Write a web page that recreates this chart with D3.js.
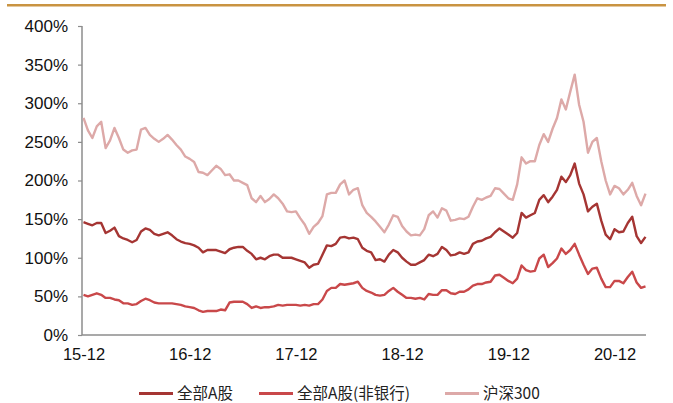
<!DOCTYPE html>
<html><head><meta charset="utf-8">
<script src="https://cdn.jsdelivr.net/npm/d3@7"></script>
<style>body{margin:0;background:#fff}svg{display:block}</style>
</head><body>
<svg id="c" width="673" height="403"></svg>
<script>
// month offsets from 2015-12 (half-month steps)
const months = d3.range(0, 64, 0.5);
const xTickLabels = ["15-12","16-12","17-12","18-12","19-12","20-12"];
const xTickMonths = [0,12,24,36,48,60];
const yTicks = [0,50,100,150,200,250,300,350,400];
const seriesNames = ["全部A股","全部A股(非银行)","沪深300"];

const allA = [146,144,142,145,145,132,135,139,128,125,123,120,123,134,138,136,131,129,131,133,129,124,121,119,118,116,113,107,110,110,110,108,106,111,113,114,114,109,105,98,100,98,102,104,104,100,100,100,98,96,94,87,91,92,104,116,115,118,126,127,125,126,124,113,109,107,97,98,95,104,110,107,100,95,91,91,94,97,104,102,105,114,110,103,104,107,105,107,118,121,122,125,127,133,138,134,130,126,132,158,152,155,158,175,181,172,179,188,205,198,207,222,196,182,160,166,170,148,130,124,137,133,134,145,153,128,119,127];
const nonBank = [52,50,52,54,52,48,48,46,45,41,41,39,40,44,47,45,42,41,41,41,41,40,39,37,36,35,32,30,31,31,31,33,32,42,43,43,43,40,35,37,35,36,36,37,39,38,39,39,39,38,39,38,40,40,46,57,61,61,66,65,66,67,69,61,57,55,52,51,52,57,61,56,52,48,48,47,48,46,53,52,52,58,58,54,53,56,56,59,64,66,66,68,69,77,78,74,70,67,73,90,84,82,83,99,104,88,93,99,112,105,110,118,104,91,79,86,87,73,62,62,70,70,67,75,82,68,61,63];
const hs300 = [281,265,255,270,276,242,252,268,255,240,236,239,240,266,268,259,254,250,254,259,253,246,240,231,228,224,211,210,207,213,219,215,207,208,200,200,197,194,177,172,180,172,176,182,177,170,160,159,160,151,143,131,140,145,154,182,184,184,195,200,182,188,190,168,158,153,147,140,133,143,155,153,141,134,129,130,129,137,155,160,152,164,161,148,149,151,150,153,166,177,175,178,180,190,189,183,177,175,195,230,222,225,225,246,260,250,267,281,305,292,315,337,298,276,236,250,255,225,200,182,193,190,182,188,197,180,168,183];

const colors = ["#A53533","#C9484A","#DDA9A8"];
const svg = d3.select("#c");

// top gold rule
svg.append("rect").attr("x",7).attr("y",4).attr("width",659).attr("height",2.5).attr("fill","#C99442");

const x = d3.scaleLinear().domain([0,63.5]).range([83.5,645.5]);
const y = d3.scaleLinear().domain([0,400]).range([335,26]);

// y axis
const ya = svg.append("g").attr("transform","translate(82,0)")
  .call(d3.axisLeft(y).tickValues(yTicks).tickSize(4).tickPadding(10).tickFormat(d=>d+"%"));
ya.select(".domain").attr("stroke","#8c8c8c").attr("stroke-width",1.5).attr("d","M0,26V335");
ya.selectAll(".tick line").attr("stroke","#8c8c8c").attr("stroke-width",1.2);
ya.selectAll("text").attr("font-family","Liberation Sans, Arial, sans-serif").attr("font-size",17).attr("fill","#111");

// x axis
const xa = svg.append("g").attr("transform","translate(0,335)")
  .call(d3.axisBottom(x).tickValues(xTickMonths).tickSize(0).tickPadding(13)
    .tickFormat((d,i)=>xTickLabels[i]));
xa.select(".domain").attr("stroke","#8c8c8c").attr("stroke-width",1.5).attr("d","M82,0H646");
xa.selectAll("text").attr("font-family","Liberation Sans, Arial, sans-serif").attr("font-size",16.5).attr("fill","#111");

const line = d3.line().x((d,i)=>x(months[i])).y(d=>y(d));
const data = [allA, nonBank, hs300];
[2,1,0].forEach(k=>{
  svg.append("path").datum(data[k]).attr("d",line).attr("fill","none")
    .attr("stroke",colors[k]).attr("stroke-width",2.4).attr("stroke-linejoin","round");
});

// legend
const legX = [139,259,445];
const lg = svg.append("g");
seriesNames.forEach((n,i)=>{
  lg.append("line").attr("x1",legX[i]).attr("x2",legX[i]+34).attr("y1",393.5).attr("y2",393.5)
    .attr("stroke",colors[i]).attr("stroke-width",3);
  lg.append("text").attr("x",legX[i]+38).attr("y",393.5).attr("dy","0.35em").text(n)
    .attr("font-family","Noto Sans CJK SC, sans-serif").attr("font-size",15.5).attr("fill","#222");
});
</script>
</body></html>
